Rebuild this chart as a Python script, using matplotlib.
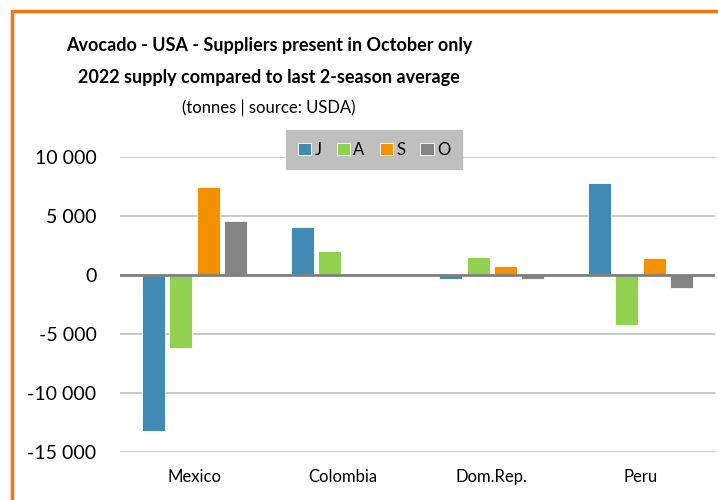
import matplotlib.pyplot as plt
import numpy as np
from matplotlib.patches import Rectangle

plt.rcParams['font.family'] = ['Lato', 'DejaVu Sans']

kraje = ['Mexico', 'Colombia', 'Dom.Rep.', 'Peru']
miesiace = ['J', 'A', 'S', 'O']
kolory = ['#418ab3', '#92d050', '#f59100', '#848484']

# wartosci [t]
J = [-13200, 4050, -300, 7800]
A = [-6150, 2000, 1500, -4250]
S = [7500, 0, 750, 1450]
O = [4600, 0, -300, -1100]
serie = [J, A, S, O]

fig = plt.figure(figsize=(7.18, 5.0), dpi=100)
ax = fig.add_axes([120 / 718, 48 / 500, 595 / 718, 295 / 500])

x = np.arange(len(kraje))
krok = 0.184
szer = 0.155
for i, (dane, kol, nazwa) in enumerate(zip(serie, kolory, miesiace)):
    ax.bar(x + (i - 1.5) * krok, dane, width=szer, color=kol, label=nazwa,
           edgecolor='white', linewidth=0.6, zorder=3)

ax.set_xlim(-0.5, 3.5)
ax.set_ylim(-15000, 10000)
ax.set_yticks(np.arange(-15000, 10001, 5000))
ax.set_yticklabels([f'{v:,}'.replace(',', ' ') for v in range(-15000, 10001, 5000)])
ax.set_xticks(x)
ax.set_xticklabels(kraje)
ax.tick_params(axis='y', length=0, labelsize=14, pad=17)
ax.tick_params(axis='x', length=0, labelsize=12, pad=12)
ax.grid(axis='y', color='#bfbfbf', linewidth=1.2, zorder=0)
ax.axhline(0, color='#808080', linewidth=2, zorder=4)
for s in ax.spines.values():
    s.set_visible(False)

leg = ax.legend(loc='upper center', bbox_to_anchor=(0.427, 1.0915), ncol=4,
                frameon=True, fancybox=False, handlelength=0.8, handleheight=0.8,
                handletextpad=0.2, columnspacing=0.9, fontsize=12,
                borderpad=0.7, borderaxespad=0)
leg.get_frame().set_facecolor('#bfbfbf')
leg.get_frame().set_edgecolor('#bfbfbf')
leg.get_frame().set_alpha(1)
leg.set_zorder(6)

xs = 0.5 * (70 + 468) / 718
fig.text(xs, 1 - 45 / 500, 'Avocado - USA - Suppliers present in October only',
         ha='center', va='center', fontsize=13, fontweight='bold')
fig.text(xs, 1 - 78 / 500, '2022 supply compared to last 2-season average',
         ha='center', va='center', fontsize=13, fontweight='bold')
fig.text(xs, 1 - 108 / 500, '(tonnes | source: USDA)',
         ha='center', va='center', fontsize=12)

# pomaranczowa ramka
fig.patches.append(Rectangle((12 / 718, -0.1), 1.1, 1 - 11 / 500 + 0.1, transform=fig.transFigure,
                             fill=False, edgecolor='#f97316', linewidth=2.5, zorder=10))

plt.savefig('out.png', dpi=100)
